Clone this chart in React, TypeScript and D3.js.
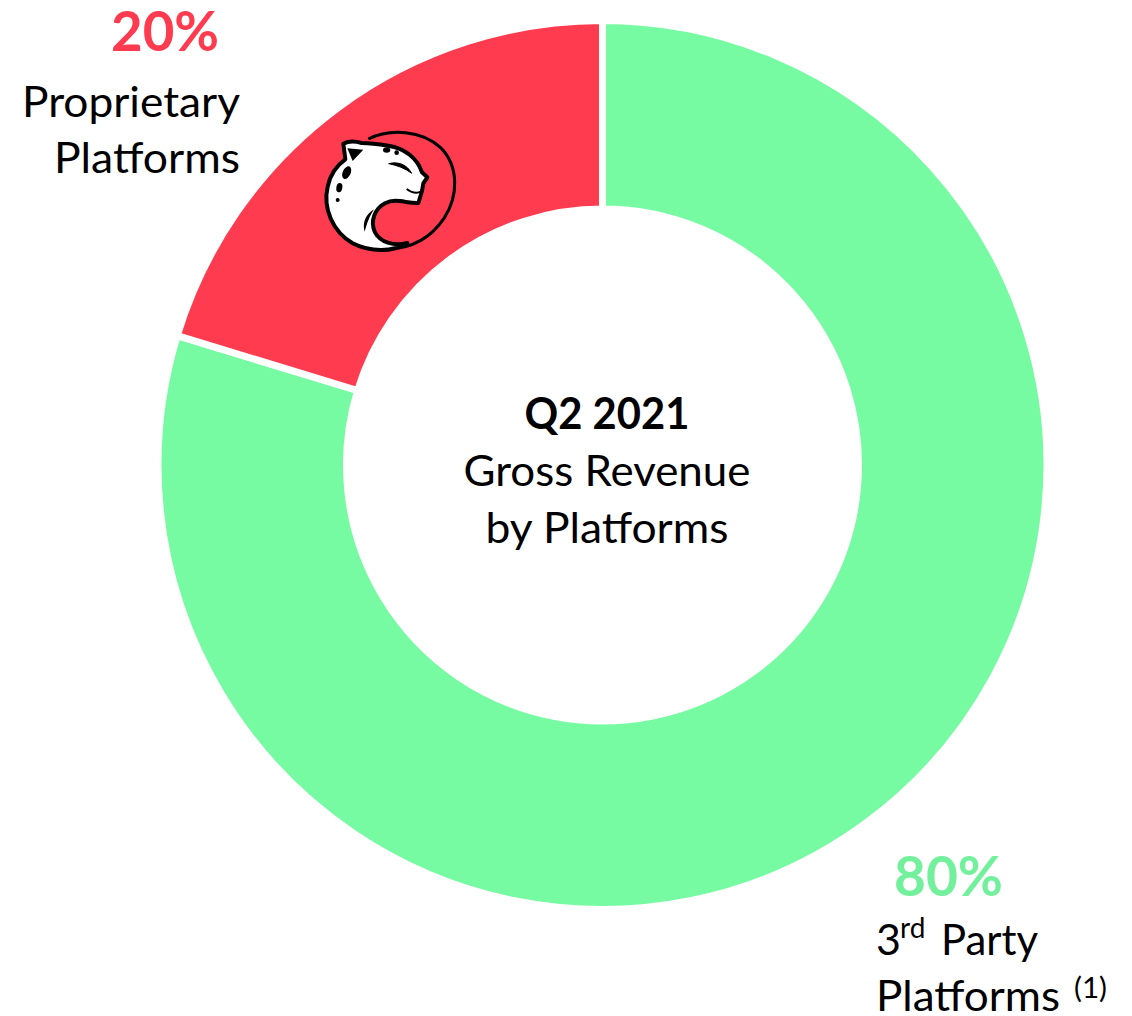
import React from "react";
import * as d3 from "d3";

const segments = ["3rd Party Platforms", "Proprietary Platforms"];
const shares = [79.7, 20.3];
const shareLabels = ["80%", "20%"];
const colors = ["#76FBA2", "#FF3B4F"];
const labelColors = ["#72F09C", "#FF3B4F"];
const centerLines = ["Q2 2021", "Gross Revenue", "by Platforms"];

const FONT = "Lato, Carlito, 'Open Sans', sans-serif";

function Logo() {
  return (
    <g transform="translate(310,115) scale(0.3333)">
      <path
        d="M175 72 C240 40 335 45 392 98 C448 155 445 245 402 310 C360 372 300 400 235 402"
        fill="none" stroke="#000" strokeWidth="9"
      />
      <path
        d="M100 86 C115 78 135 78 155 84 C185 84 210 88 235 92 C285 100 322 130 336 172 L352 187 L340 205 L336 228 L325 264 C290 266 258 248 225 265 C193 282 180 320 195 352 C210 380 250 396 292 384 C250 412 180 412 128 385 C68 350 38 280 53 215 C60 180 82 150 106 133 Z"
        fill="#fff" stroke="#000" strokeWidth="12" strokeLinejoin="round"
      />
      <path d="M112 100 L160 104 L128 138 Z" fill="#000" />
      <ellipse cx="110" cy="173" rx="12" ry="20" transform="rotate(25 110 173)" fill="#000" />
      <ellipse cx="88" cy="218" rx="9" ry="14" transform="rotate(10 88 218)" fill="#000" />
      <circle cx="83" cy="255" r="6" fill="#000" />
      <ellipse cx="230" cy="105" rx="11" ry="8" fill="#000" />
      <circle cx="260" cy="113" r="7" fill="#000" />
      <path d="M236 146 C265 138 292 150 305 175 C285 160 262 151 236 146 Z" fill="#000" stroke="#000" strokeWidth="3" />
      <path d="M290 222 C305 233 318 237 333 230" fill="none" stroke="#000" strokeWidth="6" />
      <path d="M192 283 C168 298 156 322 164 350 C172 322 178 305 192 283 Z" fill="#000" />
    </g>
  );
}

export default function App() {
  const cx = 602.5;
  const cy = 465;
  const pie = d3.pie<number>().sort(null).startAngle(0).endAngle(2 * Math.PI);
  const arc = d3.arc<d3.PieArcDatum<number>>().innerRadius(256).outerRadius(444.5);
  const arcs = pie(shares);
  const text = { fontFamily: FONT, fontSize: 43, fill: "#000" } as const;
  const bold = { fontFamily: FONT, fontSize: 56, fontWeight: 700 } as const;

  return (
    <svg
      width={1132}
      height={1016}
      style={{ position: "absolute", left: 0, top: 0, background: "#fff" }}
    >
      <g transform={`translate(${cx},${cy})`}>
        {arcs.map((a, i) => (
          <path
            key={segments[i]}
            d={arc(a) as string}
            fill={colors[i]}
            stroke="#fff"
            strokeWidth={7}
          />
        ))}
      </g>
      <Logo />

      <text x={111} y={51} {...bold} fill={labelColors[1]} textLength={108} lengthAdjust="spacingAndGlyphs">{shareLabels[1]}</text>
      <text x={22} y={117} {...text} textLength={218} lengthAdjust="spacingAndGlyphs">Proprietary</text>
      <text x={54} y={173} {...text} textLength={186} lengthAdjust="spacingAndGlyphs">Platforms</text>

      <text x={894} y={896} {...bold} fill={labelColors[0]} textLength={109} lengthAdjust="spacingAndGlyphs">{shareLabels[0]}</text>
      <text x={876} y={955} {...text}>3</text>
      <text x={900} y={938} {...text} fontSize={28}>rd</text>
      <text x={941} y={955} {...text} textLength={97} lengthAdjust="spacingAndGlyphs">Party</text>
      <text x={876} y={1011} {...text} textLength={184} lengthAdjust="spacingAndGlyphs">Platforms</text>
      <text x={1074} y={998} {...text} fontSize={28} textLength={33} lengthAdjust="spacingAndGlyphs">(1)</text>

      <text x={607} y={429} textAnchor="middle" {...text} fontWeight={700} textLength={165} lengthAdjust="spacingAndGlyphs">{centerLines[0]}</text>
      <text x={607} y={486} textAnchor="middle" {...text} textLength={287} lengthAdjust="spacingAndGlyphs">{centerLines[1]}</text>
      <text x={607} y={543} textAnchor="middle" {...text} textLength={243} lengthAdjust="spacingAndGlyphs">{centerLines[2]}</text>
    </svg>
  );
}
